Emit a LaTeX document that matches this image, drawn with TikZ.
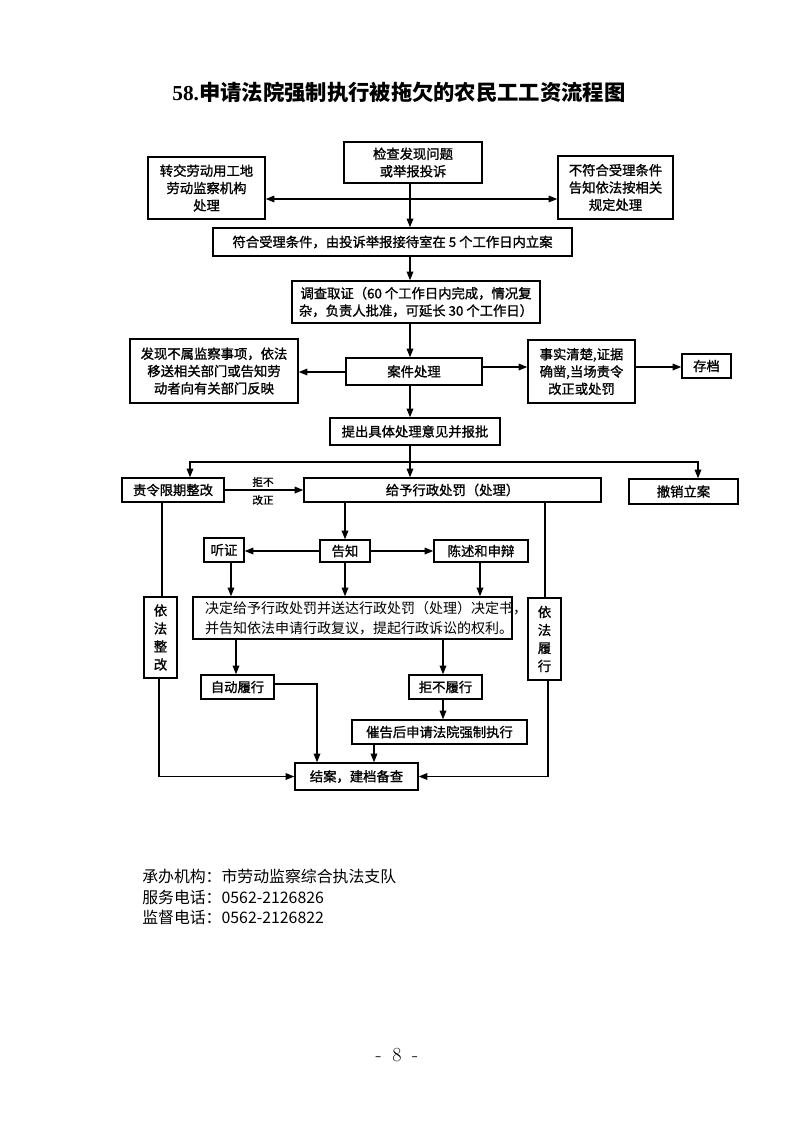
\documentclass[tikz,border=0pt]{standalone}
\usepackage{fontspec}
\newfontfamily\cjk{Noto Sans CJK SC}
\newfontfamily\cjkbox[FakeBold=1.2]{Noto Sans CJK SC}
\newfontfamily\tnr{Liberation Serif}
\usetikzlibrary{arrows.meta}
\begin{document}
\begin{tikzpicture}[x=0.75pt,y=-0.75pt,
  bx/.style={draw, line width=1.1pt, inner sep=0pt, align=center, font=\cjkbox\fontsize{10}{13}\selectfont},
  sz/.style 2 args={minimum width=#1*0.75pt, minimum height=#2*0.75pt},
  ln/.style={line width=0.9pt},
  ar/.style={ln, -{Triangle[length=6.5pt,width=5pt]}},
  lbl/.style={font=\cjkbox\fontsize{8}{10}\selectfont, inner sep=0pt}]
\fill[white] (0,0) rectangle (793,1122);
\useasboundingbox (0,0) rectangle (793,1122);

% title
\node[font=\fontsize{16}{20}\selectfont] (title) at (399,92) {{\tnr\bfseries 58.}{\cjk\bfseries 申请法院强制执行被拖欠的农民工工资流程图}};

% boxes
\node[bx, sz={138}{41}] (A) at (413,162.5) {检查发现问题\\或举报投诉};
\node[bx, sz={117}{62}] (L1) at (206.5,188) {转交劳动用工地\\劳动监察机构\\处理};
\node[bx, sz={115}{63}] (R1) at (615.5,187.5) {不符合受理条件\\告知依法按相关\\规定处理};
\node[bx, sz={359}{28}] (B) at (392.5,242) {符合受理条件，由投诉举报接待室在 5 个工作日内立案};
\node[bx, sz={248}{42}] (C) at (416,302) {调查取证（60 个工作日内完成，情况复\\杂，负责人批准，可延长 30 个工作日）};
\node[bx, sz={136}{27}] (D) at (414,371.5) {案件处理};
\node[bx, sz={168}{64}] (L2) at (214,371) {发现不属监察事项，依法\\移送相关部门或告知劳\\动者向有关部门反映};
\node[bx, sz={107}{63}] (R2) at (581.5,371.5) {事实清楚,证据\\确凿,当场责令\\改正或处罚};
\node[bx, sz={49}{24}] (R3) at (706.5,366) {存档};
\node[bx, sz={170}{27}] (E) at (415,431.5) {提出具体处理意见并报批};
\node[bx, sz={102}{24}] (F1) at (173,490) {责令限期整改};
\node[bx, sz={297}{24}] (F2) at (452.5,490) {给予行政处罚（处理）};
\node[bx, sz={109}{25}] (F3) at (683.5,491.5) {撤销立案};
\node[bx, sz={40}{24}] (H) at (224,550) {听证};
\node[bx, sz={50}{22}] (G) at (345,551) {告知};
\node[bx, sz={94}{22}] (I) at (481,551) {陈述和申辩};
\node[bx, sz={319}{42}] (J) at (352.5,618) {};
\node[font=\cjk\fontsize{10.5}{15}\selectfont, align=left, inner sep=0pt] (Jt) at (366,618) {决定给予行政处罚并送达行政处罚（处理）决定书，\\并告知依法申请行政复议，提起行政诉讼的权利。};
\node[bx, sz={33}{81}, font=\cjkbox\fontsize{10}{13.5}\selectfont] (K1) at (160.5,637.5) {依\\法\\整\\改};
\node[bx, sz={33}{82}, font=\cjkbox\fontsize{10}{13.5}\selectfont] (K2) at (544.5,639) {依\\法\\履\\行};
\node[bx, sz={73}{24}] (L) at (237.5,687) {自动履行};
\node[bx, sz={73}{24}] (M) at (445.5,687) {拒不履行};
\node[bx, sz={175}{24}] (N) at (439.5,732) {催告后申请法院强制执行};
\node[bx, sz={123}{27}] (O) at (356.5,776.5) {结案，建档备查};

% helper coordinates
\coordinate (j1) at (410,199);
\coordinate (j2) at (410,462);
\coordinate (jl) at (190,462);
\coordinate (jr) at (698,462);
\coordinate (xa) at (410,0);
\coordinate (yl) at (0,372);
\coordinate (yr) at (0,367);
\coordinate (xh) at (231,0);
\coordinate (xi) at (480,0);
\coordinate (xk1) at (162,0);
\coordinate (xk1b) at (159,0);
\coordinate (xk2) at (545,0);
\coordinate (xk2b) at (548,0);
\coordinate (xl) at (236,0);
\coordinate (xm) at (443,0);
\coordinate (xn) at (374,0);
\coordinate (xo) at (317,0);
\coordinate (yL) at (0,684);

% connectors
\draw[ar] (A.south -| j1) -- (B.north -| j1);
\draw[ar] (j1) -- (L1.east |- j1);
\draw[ar] (j1) -- (R1.west |- j1);
\draw[ar] (B.south -| xa) -- (C.north -| xa);
\draw[ar] (C.south -| xa) -- (D.north -| xa);
\draw[ar] (D.west |- yl) -- (L2.east |- yl);
\draw[ar] (D.east |- yr) -- (R2.west |- yr);
\draw[ar] (R2.east |- yr) -- (R3.west |- yr);
\draw[ar] (D.south -| xa) -- (E.north -| xa);
\draw[ln] (E.south -| xa) -- (j2);
\draw[ar] (j2) -- (F2.north -| j2);
\draw[ar] (j2) -- (jl) -- (F1.north -| jl);
\draw[ar] (j2) -- (jr) -- (F3.north -| jr);
\draw[ar] (F1.east) -- (F2.west |- F1.east);
\node[lbl] (jb) at (263,482) {拒不};
\node[lbl] (gz) at (263,500) {改正};
\draw[ar] (F2.south -| G) -- (G.north);
\draw[ar] (G.west) -- (H.east |- G.west);
\draw[ar] (G.east) -- (I.west |- G.east);
\draw[ar] (H.south -| xh) -- (J.north -| xh);
\draw[ar] (G.south) -- (J.north -| G);
\draw[ar] (I.south -| xi) -- (J.north -| xi);
\draw[ln] (F1.south -| xk1) -- (K1.north -| xk1);
\draw[ar] (K1.south -| xk1b) |- (O.west);
\draw[ln] (F2.south -| xk2) -- (K2.north -| xk2);
\draw[ar] (K2.south -| xk2b) |- (O.east);
\draw[ar] (J.south -| xl) -- (L.north -| xl);
\draw[ar] (J.south -| xm) -- (M.north -| xm);
\draw[ar] (M.south -| xm) -- (N.north -| xm);
\draw[ar] (N.south -| xn) -- (O.north -| xn);
\draw[ar] (L.east |- yL) -| (O.north -| xo);

% footer
\node[anchor=west, align=left, inner sep=0pt, font=\cjk\fontsize{11.9}{15.4}\selectfont] (foot) at (142,897) {承办机构：市劳动监察综合执法支队\\服务电话：0562-2126826\\监督电话：0562-2126822};
\node[font=\fontsize{15}{18}\selectfont, inner sep=0pt] (pg) at (397,1055) {-\hspace{8pt}8\hspace{8pt}-};
\end{tikzpicture}
\end{document}
